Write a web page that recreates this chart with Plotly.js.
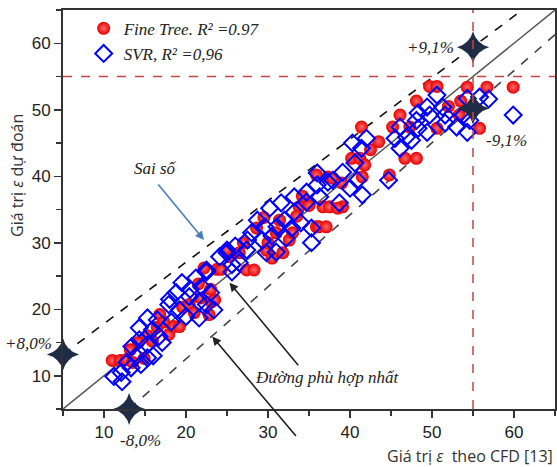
<!DOCTYPE html>
<html><head><meta charset="utf-8">
<script src="https://cdn.plot.ly/plotly-3.0.1.min.js"></script>
<style>html,body{margin:0;padding:0;background:#fff}#c{width:557px;height:467px}</style>
</head><body><div id="c"></div>
<script>
// Fine Tree predictions (x = CFD value, y = predicted)
const treeX = [11.0,12.0,12.7,13.2,13.5,14.2,14.9,15.3,15.9,16.5,16.8,17.3,17.9,18.5,19.2,19.6,20.4,21.0,21.8,22.8,23.1,23.5,23.0,21.5,
  22.2,23.8,24.3,25.3,25.0,27.4,28.3,28.6,29.8,30.5,31.0,31.4,31.8,32.6,29.5,30.0,33.0,33.8,35.9,36.2,36.7,37.5,39.1,38.5,35.9,37.3,34.2,35.0,37.9,41.5,40.2,41.2,41.4,44.8,46.7,48.1,45.2,46.1,47.3,48.1,49.7,50.6,50.6,53.3,53.5,54.3,55.8,56.7,59.9,52.0,42.5,43.5,39.0,33.5,26.5,27.0,37.1,41.8];
const treeY = [12.3,12.3,12.4,13.9,12.0,15.0,12.6,16.0,15.2,17.3,19.2,18.1,16.2,17.4,17.4,20.3,20.7,19.5,21.7,19.2,21.1,21.4,23.0,23.8,
  26.2,26.0,26.0,27.9,29.0,25.9,25.9,32.2,28.9,27.7,31.5,33.4,28.5,30.4,33.8,30.0,31.5,35.4,32.4,32.4,35.4,35.4,35.4,35.2,40.2,39.9,37.0,35.6,39.7,39.9,42.7,42.7,47.4,40.2,42.7,42.7,47.4,49.2,47.4,51.3,53.5,53.5,47.2,49.2,51.3,53.4,47.2,53.4,53.4,50.5,44.0,45.2,39.0,34.0,28.5,30.0,32.4,41.7];
// SVR predictions
const svrX = [11.2,12.1,12.2,13.3,14.5,13.9,15.3,13.4,14.3,15.3,17.1,16.7,14.3,15.9,15.3,16.5,18.2,17.9,19.2,20.0,21.6,18.8,20.4,21.6,22.5,23.4,19.5,21.9,21.2,22.5,25.6,25.0,24.1,25.0,22.5,25.6,27.4,27.5,29.3,29.8,31.0,32.2,35.3,29.6,31.1,32.9,35.3,28.7,32.0,33.2,30.2,31.6,33.2,34.7,34.7,36.3,38.7,36.0,37.3,36.0,37.9,39.1,40.0,40.9,41.5,40.6,40.3,41.4,42.0,44.7,45.5,46.9,46.1,47.5,46.1,48.3,49.4,48.1,48.3,49.7,49.4,50.6,51.3,51.6,51.6,53.0,53.8,54.6,54.3,54.3,55.8,56.9,59.9,26.5,28.0,30.5,34.0,23.0,20.5,18.0,16.0,12.8,26.0];
const svrY = [9.9,10.5,9.1,11.2,11.7,12.9,12.7,14.4,15.4,14.7,15.0,15.9,17.2,16.9,18.7,18.4,18.1,20.7,19.9,18.9,18.7,22.5,21.9,21.1,20.7,19.9,24.0,23.4,24.7,25.6,26.7,28.5,27.9,28.9,25.9,25.6,28.9,30.4,30.4,28.5,28.6,30.7,30.0,32.4,32.4,32.2,32.2,33.4,33.4,34.6,35.2,36.0,36.9,36.1,37.6,36.9,36.0,38.7,39.1,40.5,39.4,40.6,38.2,39.4,37.2,42.0,45.0,44.2,45.7,39.4,45.7,45.9,44.2,45.4,47.4,47.2,46.6,48.4,49.5,49.2,50.4,52.2,50.4,49.2,48.0,47.4,49.2,48.4,46.6,51.7,51.9,51.6,49.2,27.0,31.5,31.0,33.0,22.5,23.0,21.5,13.0,12.0,29.5];
// reference lines
const fitX = [5, 65], fitY = [5, 65];
const upX = [5, 61], upY = [13.2, 65];
const loX = [13.06, 65], loY = [5, 61.3];
const limit = 55;
// error-bound stars
const starX = [5, 13.06, 55, 55];
const starY = [13.2, 5, 59.4, 50.2];
const legTree = 'Fine Tree. R² =0.97';
const legSvr = 'SVR, R² =0,96';

const serif = 'Liberation Serif, Times New Roman, serif';
const itFont = (s) => ({family:serif, size:s, color:'#222', style:'italic'});
const traces = [
  {x: fitX, y: fitY, mode:'lines', line:{color:'#555', width:1.5}, showlegend:false, hoverinfo:'skip'},
  {x: upX, y: upY, mode:'lines', line:{color:'#111', width:1.6, dash:'dash'}, showlegend:false, hoverinfo:'skip'},
  {x: loX, y: loY, mode:'lines', line:{color:'#444', width:1.6, dash:'dash'}, showlegend:false, hoverinfo:'skip'},
  {x: treeX, y: treeY, mode:'markers', name: legTree,
   marker:{color:'#e80000', size:13, line:{width:0}, gradient:{type:'radial', color:'#ff6a6a'}}},
  {x: svrX, y: svrY, mode:'markers', name: legSvr,
   marker:{symbol:'diamond-open', color:'#0000ff', size:13, line:{width:2, color:'#0000ff'}}},
  {x: starX, y: starY, mode:'markers', showlegend:false, cliponaxis:false,
   marker:{symbol:'star-diamond', color:'#1e2d45', size:23, line:{width:0}}}
];

const layout = {
  width:557, height:467,
  margin:{l:63, r:2, t:10, b:58},
  paper_bgcolor:'#fff', plot_bgcolor:'#fff',
  showlegend:true,
  legend:{x:0.042, y:0.998, xanchor:'left', yanchor:'top', bgcolor:'rgba(0,0,0,0)',
    font:itFont(17), itemwidth:30, tracegroupgap:0},
  xaxis:{range:[5,65], tickvals:[10,20,30,40,50,60], ticks:'outside', ticklen:7, tickwidth:1.5, tickcolor:'#333',
    showline:true, linecolor:'#333', linewidth:2, mirror:true, showgrid:false, zeroline:false,
    minor:{tickvals:[5,15,25,35,45,55,65], ticks:'outside', ticklen:5, tickwidth:1.5, tickcolor:'#333'},
    tickfont:{family:'Liberation Sans, Arial, sans-serif', size:17, color:'#222'}},
  yaxis:{range:[5,65], tickvals:[10,20,30,40,50,60], ticks:'outside', ticklen:7, tickwidth:1.5, tickcolor:'#333',
    showline:true, linecolor:'#333', linewidth:2, mirror:true, showgrid:false, zeroline:false,
    minor:{tickvals:[5,15,25,35,45,55,65], ticks:'outside', ticklen:5, tickwidth:1.5, tickcolor:'#333'},
    tickfont:{family:'Liberation Sans, Arial, sans-serif', size:17, color:'#222'}},
  shapes:[
    {type:'line', xref:'paper', x0:0, x1:1, yref:'y', y0:limit, y1:limit, line:{color:'#c84444', width:1.5, dash:'dash'}},
    {type:'line', yref:'paper', y0:0, y1:1, xref:'x', x0:limit, x1:limit, line:{color:'#c84444', width:1.5, dash:'dash'}}
  ],
  annotations:[
    {xref:'paper', yref:'paper', x:1, y:-0.118, xanchor:'right', yanchor:'middle', showarrow:false,
     text:'Giá trị <i>ε</i>  theo CFD [13]', font:{family:'Open Sans, Noto Sans, sans-serif', size:16, color:'#333'}},
    {xref:'paper', yref:'paper', x:-0.094, y:0.586, xanchor:'center', yanchor:'middle', textangle:-90, showarrow:false,
     text:'Giá trị <i>ε</i> dự đoán', font:{family:'Open Sans, Noto Sans, sans-serif', size:16, color:'#333'}},
    {x:22.2, y:30.4, ax:-47, ay:-57, showarrow:true, arrowhead:2, arrowsize:1.1, arrowwidth:1.6, arrowcolor:'#4a7ebb', text:''},
    {xref:'paper', yref:'paper', x:0.187, y:0.604, xanchor:'center', yanchor:'middle', showarrow:false, text:'Sai số', font:itFont(17)},
    {x:25.3, y:24.0, ax:70, ay:84, showarrow:true, arrowhead:2, arrowsize:1.1, arrowwidth:1.6, arrowcolor:'#222', text:''},
    {x:23.2, y:15.9, ax:85, ay:101, showarrow:true, arrowhead:2, arrowsize:1.1, arrowwidth:1.6, arrowcolor:'#222', text:''},
    {xref:'paper', yref:'paper', x:0.536, y:0.078, xanchor:'center', yanchor:'middle', showarrow:false, text:'Đường phù hợp nhất', font:itFont(17)},
    {xref:'paper', yref:'paper', x:0.746, y:0.907, xanchor:'center', yanchor:'middle', showarrow:false, text:'+9,1%', font:itFont(17)},
    {xref:'paper', yref:'paper', x:0.902, y:0.674, xanchor:'center', yanchor:'middle', showarrow:false, text:'-9,1%', font:itFont(17)},
    {xref:'paper', yref:'paper', x:-0.071, y:0.165, xanchor:'center', yanchor:'middle', showarrow:false, text:'+8,0%', font:itFont(17)},
    {xref:'paper', yref:'paper', x:0.157, y:-0.078, xanchor:'center', yanchor:'middle', showarrow:false, text:'-8,0%', font:itFont(17)}
  ]
};
Plotly.newPlot('c', traces, layout, {displayModeBar:false, staticPlot:true});
</script></body></html>
